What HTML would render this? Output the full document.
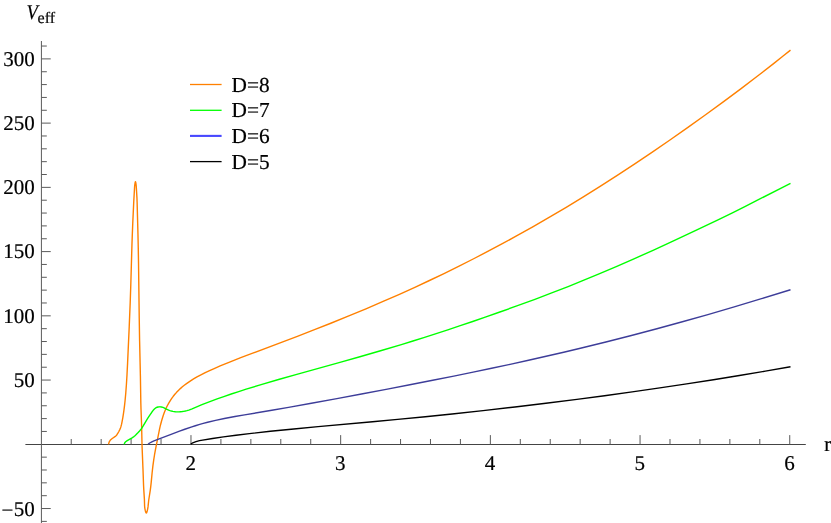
<!DOCTYPE html>
<html><head><meta charset="utf-8"><title>Veff</title>
<style>
html,body{margin:0;padding:0;background:#fff;}
body{width:831px;height:523px;overflow:hidden;}
svg{display:block;}
text{font-family:"Liberation Serif",serif;fill:#000;stroke:#000;stroke-width:0.2px;text-rendering:geometricPrecision;}
</style></head><body>
<svg width="831" height="523" viewBox="0 0 831 523">
<rect x="0" y="0" width="831" height="523" fill="#fff"/>
<g stroke-width="1" fill="none">
<line x1="25.40" y1="444.50" x2="805.80" y2="444.50" stroke="#444"/>
<line x1="41.42" y1="41.00" x2="41.42" y2="523.00" stroke="#5c5c5c"/>
</g>
<g stroke="#5a5a5a" stroke-width="1" fill="none">
<line x1="71.23" y1="444.50" x2="71.23" y2="439.00"/>
<line x1="101.17" y1="444.50" x2="101.17" y2="439.00"/>
<line x1="131.10" y1="444.50" x2="131.10" y2="439.00"/>
<line x1="161.04" y1="444.50" x2="161.04" y2="439.00"/>
<line x1="190.98" y1="444.50" x2="190.98" y2="435.10"/>
<line x1="220.92" y1="444.50" x2="220.92" y2="439.00"/>
<line x1="250.86" y1="444.50" x2="250.86" y2="439.00"/>
<line x1="280.79" y1="444.50" x2="280.79" y2="439.00"/>
<line x1="310.73" y1="444.50" x2="310.73" y2="439.00"/>
<line x1="340.67" y1="444.50" x2="340.67" y2="435.10"/>
<line x1="370.61" y1="444.50" x2="370.61" y2="439.00"/>
<line x1="400.55" y1="444.50" x2="400.55" y2="439.00"/>
<line x1="430.48" y1="444.50" x2="430.48" y2="439.00"/>
<line x1="460.42" y1="444.50" x2="460.42" y2="439.00"/>
<line x1="490.36" y1="444.50" x2="490.36" y2="435.10"/>
<line x1="520.30" y1="444.50" x2="520.30" y2="439.00"/>
<line x1="550.24" y1="444.50" x2="550.24" y2="439.00"/>
<line x1="580.17" y1="444.50" x2="580.17" y2="439.00"/>
<line x1="610.11" y1="444.50" x2="610.11" y2="439.00"/>
<line x1="640.05" y1="444.50" x2="640.05" y2="435.10"/>
<line x1="669.99" y1="444.50" x2="669.99" y2="439.00"/>
<line x1="699.93" y1="444.50" x2="699.93" y2="439.00"/>
<line x1="729.86" y1="444.50" x2="729.86" y2="439.00"/>
<line x1="759.80" y1="444.50" x2="759.80" y2="439.00"/>
<line x1="789.74" y1="444.50" x2="789.74" y2="435.10"/>
<line x1="41.42" y1="521.38" x2="46.82" y2="521.38"/>
<line x1="41.42" y1="508.54" x2="50.72" y2="508.54"/>
<line x1="41.42" y1="495.69" x2="46.82" y2="495.69"/>
<line x1="41.42" y1="482.84" x2="46.82" y2="482.84"/>
<line x1="41.42" y1="469.99" x2="46.82" y2="469.99"/>
<line x1="41.42" y1="457.15" x2="46.82" y2="457.15"/>
<line x1="41.42" y1="431.45" x2="46.82" y2="431.45"/>
<line x1="41.42" y1="418.61" x2="46.82" y2="418.61"/>
<line x1="41.42" y1="405.76" x2="46.82" y2="405.76"/>
<line x1="41.42" y1="392.91" x2="46.82" y2="392.91"/>
<line x1="41.42" y1="380.06" x2="50.72" y2="380.06"/>
<line x1="41.42" y1="367.22" x2="46.82" y2="367.22"/>
<line x1="41.42" y1="354.37" x2="46.82" y2="354.37"/>
<line x1="41.42" y1="341.52" x2="46.82" y2="341.52"/>
<line x1="41.42" y1="328.68" x2="46.82" y2="328.68"/>
<line x1="41.42" y1="315.83" x2="50.72" y2="315.83"/>
<line x1="41.42" y1="302.98" x2="46.82" y2="302.98"/>
<line x1="41.42" y1="290.14" x2="46.82" y2="290.14"/>
<line x1="41.42" y1="277.29" x2="46.82" y2="277.29"/>
<line x1="41.42" y1="264.44" x2="46.82" y2="264.44"/>
<line x1="41.42" y1="251.60" x2="50.72" y2="251.60"/>
<line x1="41.42" y1="238.75" x2="46.82" y2="238.75"/>
<line x1="41.42" y1="225.90" x2="46.82" y2="225.90"/>
<line x1="41.42" y1="213.05" x2="46.82" y2="213.05"/>
<line x1="41.42" y1="200.21" x2="46.82" y2="200.21"/>
<line x1="41.42" y1="187.36" x2="50.72" y2="187.36"/>
<line x1="41.42" y1="174.51" x2="46.82" y2="174.51"/>
<line x1="41.42" y1="161.67" x2="46.82" y2="161.67"/>
<line x1="41.42" y1="148.82" x2="46.82" y2="148.82"/>
<line x1="41.42" y1="135.97" x2="46.82" y2="135.97"/>
<line x1="41.42" y1="123.12" x2="50.72" y2="123.12"/>
<line x1="41.42" y1="110.28" x2="46.82" y2="110.28"/>
<line x1="41.42" y1="97.43" x2="46.82" y2="97.43"/>
<line x1="41.42" y1="84.58" x2="46.82" y2="84.58"/>
<line x1="41.42" y1="71.74" x2="46.82" y2="71.74"/>
<line x1="41.42" y1="58.89" x2="50.72" y2="58.89"/>
<line x1="41.42" y1="46.04" x2="46.82" y2="46.04"/>
</g>
<path d="M108.50,444.40 L108.94,442.80 L109.29,441.82 L109.67,441.09 L110.22,440.34 L111.03,439.53 L112.23,438.52 L115.70,436.07 L116.30,435.51 L116.76,434.95 L118.19,432.66 L118.86,431.49 L119.76,429.62 L120.48,427.91 L121.07,426.14 L121.59,424.13 L122.14,421.39 L122.87,417.30 L123.49,413.42 L124.05,409.42 L124.58,405.21 L125.06,400.78 L125.76,393.25 L126.39,384.78 L127.00,374.75 L127.60,362.85 L129.23,326.63 L130.20,302.51 L130.79,284.93 L131.96,244.47 L132.34,233.68 L132.76,223.28 L133.75,201.84 L134.58,187.04 L134.72,185.37 L134.98,183.55 L135.23,182.21 L135.34,181.87 L135.43,181.75 L135.49,181.77 L135.58,181.92 L135.77,182.68 L136.04,184.31 L136.24,185.97 L136.96,198.13 L137.11,202.13 L137.97,234.61 L138.27,248.21 L138.53,263.22 L139.24,318.28 L139.61,341.07 L140.40,375.97 L140.83,403.10 L141.01,409.32 L141.62,425.98 L142.05,445.97 L143.01,469.70 L143.54,484.91 L143.78,489.63 L144.40,499.13 L144.59,505.96 L144.85,508.32 L145.36,510.89 L145.61,511.80 L145.89,512.54 L146.13,512.92 L146.34,512.99 L146.51,512.88 L146.71,512.54 L147.13,511.29 L147.65,509.05 L148.01,506.89 L148.74,499.99 L150.21,490.64 L150.74,486.66 L151.18,482.63 L152.15,472.52 L152.90,465.94 L153.69,460.18 L154.54,454.74 L155.55,449.23 L159.54,429.11 L160.20,426.18 L160.88,423.47 L161.62,420.77 L162.45,417.99 L163.41,415.03 L164.39,412.30 L165.36,409.90 L166.42,407.54 L167.58,405.22 L168.88,402.86 L170.28,400.56 L171.72,398.40 L173.25,396.31 L174.88,394.29 L176.59,392.34 L178.38,390.47 L180.33,388.61 L182.35,386.83 L184.28,385.27 L186.52,383.61 L190.19,381.07 L193.57,378.90 L197.00,376.89 L200.43,375.03 L204.72,372.86 L209.01,370.83 L214.16,368.53 L220.16,365.96 L229.59,362.09 L240.74,357.72 L252.75,353.14 L282.77,341.86 L297.35,336.33 L314.50,329.70 L330.80,323.26 L348.81,315.96 L365.96,308.82 L383.11,301.48 L399.41,294.30 L414.85,287.30 L429.43,280.50 L444.01,273.53 L458.59,266.36 L473.17,259.00 L487.75,251.44 L502.33,243.69 L516.05,236.20 L524.63,231.42 L533.20,226.58 L549.50,217.18 L565.79,207.53 L582.95,197.09 L600.10,186.38 L617.25,175.39 L634.41,164.14 L651.56,152.63 L669.57,140.28 L687.58,127.67 L705.59,114.79 L723.60,101.64 L740.76,88.85 L757.91,75.79 L774.20,63.09 L782.78,56.29 L790.50,50.09" fill="none" stroke="#ff8000" stroke-width="1.40" stroke-linejoin="round" stroke-linecap="butt"/>
<path d="M124.20,444.40 L124.58,443.28 L124.82,442.73 L125.20,442.20 L125.65,441.75 L127.24,440.60 L132.07,437.83 L133.08,437.19 L133.94,436.57 L134.97,435.70 L136.18,434.54 L138.15,432.52 L139.57,430.97 L141.05,429.16 L142.26,427.48 L143.19,425.96 L145.44,422.03 L147.82,418.16 L149.48,415.57 L152.07,411.77 L153.21,410.32 L154.66,408.83 L155.66,407.96 L156.07,407.69 L156.49,407.49 L157.97,407.04 L159.15,406.83 L160.22,406.82 L161.43,407.02 L162.98,407.42 L163.60,407.65 L166.43,409.12 L168.68,410.14 L169.96,410.63 L171.41,411.05 L172.86,411.39 L174.00,411.59 L175.38,411.75 L176.69,411.86 L177.76,411.90 L179.01,411.87 L180.46,411.75 L182.35,411.56 L183.60,411.38 L185.36,411.04 L186.88,410.68 L188.81,410.06 L192.09,408.84 L201.35,404.91 L203.90,403.88 L217.14,398.94 L223.78,396.59 L231.24,394.03 L238.71,391.57 L246.18,389.18 L261.12,384.60 L278.54,379.49 L296.79,374.32 L339.94,362.33 L359.86,356.73 L381.43,350.50 L401.34,344.55 L412.96,340.98 L424.58,337.34 L436.19,333.62 L447.81,329.83 L460.26,325.68 L472.70,321.47 L485.98,316.89 L498.43,312.53 L517.51,305.70 L534.93,299.29 L552.36,292.71 L568.13,286.56 L583.89,280.21 L599.66,273.67 L616.25,266.58 L634.51,258.60 L653.59,250.05 L673.50,240.90 L694.25,231.15 L717.48,220.02 L732.42,212.77 L744.86,206.59 L756.48,200.70 L779.71,188.77 L790.50,183.38" fill="none" stroke="#00ff00" stroke-width="1.40" stroke-linejoin="round" stroke-linecap="butt"/>
<path d="M148.20,444.40 L148.50,443.97 L148.77,443.68 L149.70,443.00 L151.85,441.86 L153.96,440.91 L162.46,437.59 L171.07,434.42 L179.52,431.18 L184.79,429.23 L191.82,426.83 L195.34,425.71 L199.74,424.40 L203.25,423.42 L207.65,422.26 L215.56,420.38 L224.35,418.53 L234.90,416.55 L244.57,414.86 L271.82,410.23 L288.53,407.32 L311.38,403.24 L336.88,398.58 L361.49,393.99 L386.11,389.33 L409.84,384.77 L432.70,380.29 L453.80,376.08 L473.14,372.13 L491.60,368.27 L510.06,364.32 L528.52,360.26 L546.11,356.29 L563.69,352.22 L580.39,348.25 L605.89,341.99 L631.38,335.49 L656.87,328.75 L682.37,321.77 L707.86,314.56 L734.24,306.87 L761.49,298.70 L790.50,289.79" fill="none" stroke="#3d3d99" stroke-width="1.40" stroke-linejoin="round" stroke-linecap="butt"/>
<path d="M190.80,444.40 L191.21,443.84 L191.64,443.50 L192.70,442.95 L194.06,442.38 L195.92,441.70 L197.79,441.11 L199.47,440.66 L201.10,440.32 L212.54,438.50 L223.43,436.92 L235.99,435.26 L249.39,433.64 L270.33,431.32 L293.79,428.95 L318.08,426.66 L372.53,421.72 L397.65,419.39 L425.30,416.71 L452.10,413.98 L483.09,410.64 L514.92,407.01 L545.91,403.29 L576.91,399.37 L604.55,395.72 L632.19,391.91 L659.83,387.93 L686.63,383.92 L713.44,379.75 L739.40,375.55 L765.37,371.18 L790.50,366.79" fill="none" stroke="#000000" stroke-width="1.40" stroke-linejoin="round" stroke-linecap="butt"/>
<line x1="190" y1="84.50" x2="221.6" y2="84.50" stroke="#ff8000" stroke-width="1.30"/>
<line x1="190" y1="110.30" x2="221.6" y2="110.30" stroke="#00ff00" stroke-width="1.30"/>
<line x1="190" y1="135.90" x2="221.6" y2="135.90" stroke="#4848ff" stroke-width="2.10"/>
<line x1="190" y1="161.60" x2="221.6" y2="161.60" stroke="#000000" stroke-width="1.30"/>
<g style="will-change:transform">
<text x="231.6" y="91.50" font-size="21.33">D=8</text>
<text x="231.6" y="117.10" font-size="21.33">D=7</text>
<text x="231.6" y="142.80" font-size="21.33">D=6</text>
<text x="231.6" y="168.60" font-size="21.33">D=5</text>
<text x="34.7" y="65.64" font-size="21.00" text-anchor="end">300</text>
<text x="34.7" y="129.88" font-size="21.00" text-anchor="end">250</text>
<text x="34.7" y="194.11" font-size="21.00" text-anchor="end">200</text>
<text x="34.7" y="258.35" font-size="21.00" text-anchor="end">150</text>
<text x="34.7" y="322.58" font-size="21.00" text-anchor="end">100</text>
<text x="34.7" y="386.81" font-size="21.00" text-anchor="end">50</text>
<text x="35.1" y="515.29" font-size="21.00" text-anchor="end"><tspan dx="-0.3" dy="2.1">−</tspan><tspan dx="0.5" dy="-1.8">50</tspan></text>
<text x="190.68" y="469.5" font-size="21.00" text-anchor="middle">2</text>
<text x="340.37" y="469.5" font-size="21.00" text-anchor="middle">3</text>
<text x="490.06" y="469.5" font-size="21.00" text-anchor="middle">4</text>
<text x="639.75" y="469.5" font-size="21.00" text-anchor="middle">5</text>
<text x="789.44" y="469.5" font-size="21.00" text-anchor="middle">6</text>
<text x="824.2" y="450.8" font-size="21.00">r</text>
<text transform="translate(26.4,18.8) scale(0.89,1)" font-size="21.00" font-style="italic">V</text>
<text x="37.6" y="23.4" font-size="16.00">eff</text>
</g>
</svg>
</body></html>
